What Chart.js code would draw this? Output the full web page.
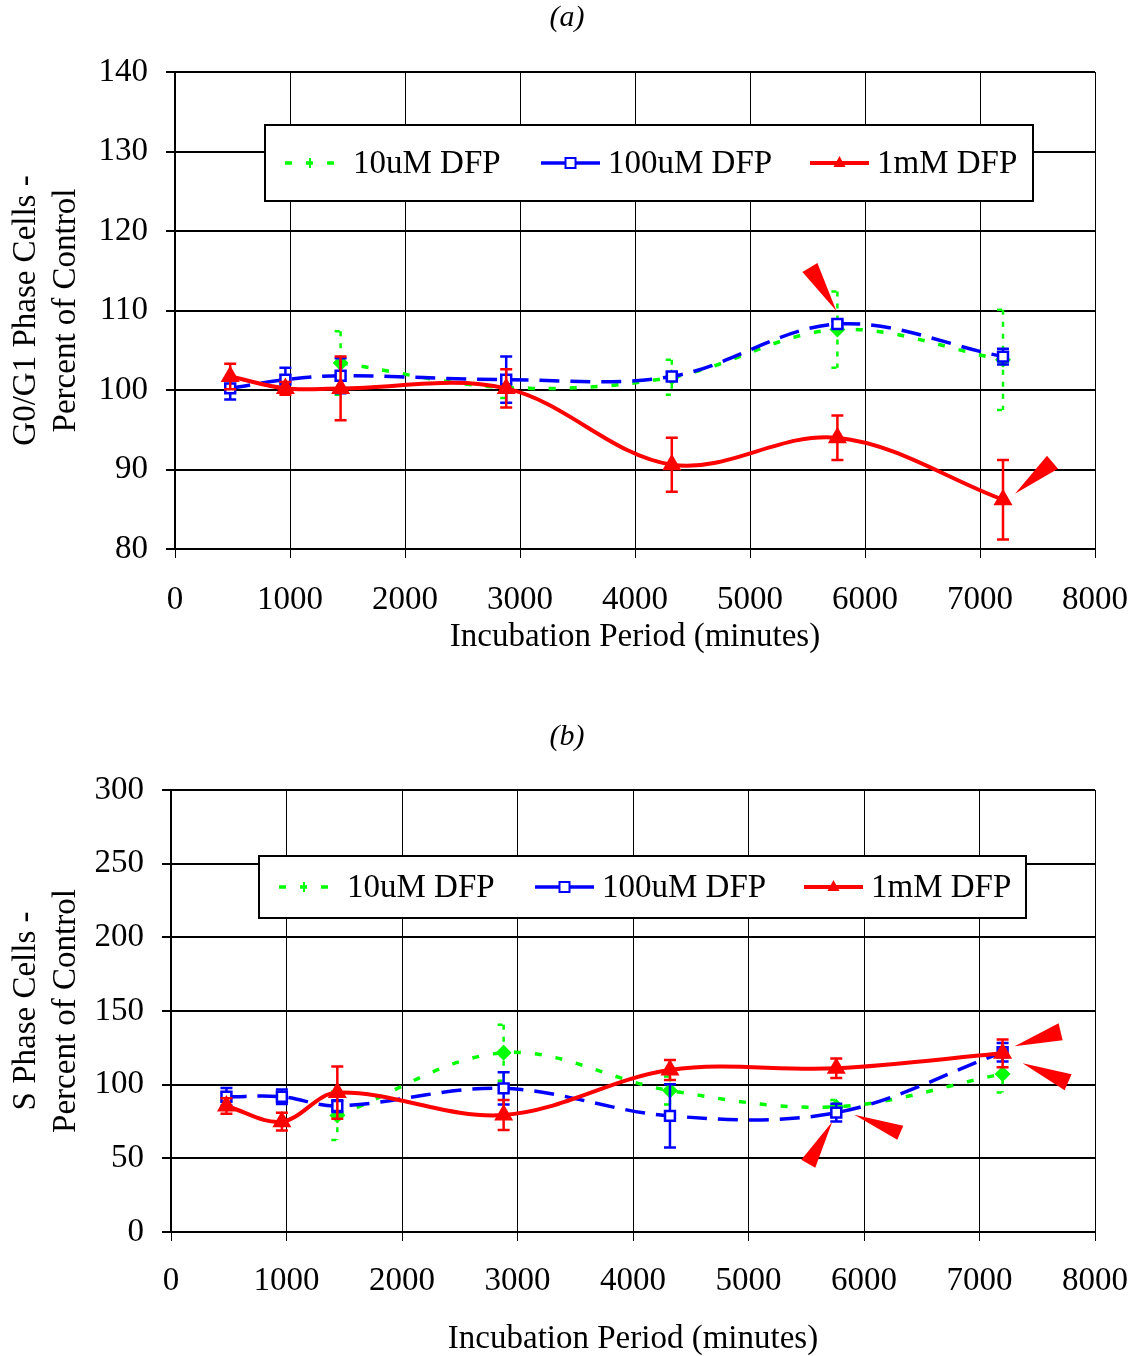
<!DOCTYPE html>
<html>
<head>
<meta charset="utf-8">
<script src="https://cdn.jsdelivr.net/npm/chart.js@4.4.0/dist/chart.umd.min.js"></script>
<style>
  body { margin: 0; background: #fff; }
  canvas { display: block; }
</style>
</head>
<body>
<canvas id="chartA" width="1138" height="690"></canvas>
<canvas id="chartB" width="1138" height="666"></canvas>
<script>
// incubation times in minutes (8h .. 120h)
const times = [480, 960, 1440, 2880, 4320, 5760, 7200];
const seriesNames = ['10uM DFP', '100uM DFP', '1mM DFP'];
const xTicks = [0, 1000, 2000, 3000, 4000, 5000, 6000, 7000, 8000];

// (a) G0/G1 phase cells, percent of control
const g1Low = [null, null, 103.4, 100.3, 101.6, 107.6, 103.8];
const g1LowErr = [null, null, 4.0, 1.3, 2.2, 4.8, 6.3];
const g1Mid = [100.2, 101.3, 101.8, 101.3, 101.7, 108.3, 104.2];
const g1MidErr = [1.4, 1.5, 2.2, 2.9, 0.5, 0.4, 1.0];
const g1High = [101.7, 100.2, 100.2, 100.2, 90.6, 94.0, 86.2];
const g1HighErr = [1.6, 0.8, 4.0, 2.4, 3.4, 2.8, 5.0];

// (b) S phase cells, percent of control
const sLow = [null, null, 79, 121.7, 96, 85, 107.3];
const sLowErr = [null, null, 16.5, 19, 9.5, 4.6, 12.7];
const sMid = [91.8, 91.8, 85.5, 97.5, 78.8, 81.0, 122.0];
const sMidErr = [6, 5, 4, 11, 21.5, 6, 6.2];
const sHigh = [85.5, 74.9, 94.6, 79.4, 110, 111.1, 121.3];
const sHighErr = [5.3, 6, 17.8, 10.2, 6.8, 6.6, 9.4];

const FONT = 'Liberation Serif, Times New Roman, serif';
Chart.defaults.font.family = FONT;
Chart.defaults.color = '#000';

function pts(vals) {
  return times.map((t, i) => ({ x: t, y: vals[i] }));
}

function makeSets(low, lowErr, mid, midErr, high, highErr) {
  return [
    {
      label: seriesNames[0], data: pts(low), err: lowErr, errDash: [5, 7],
      borderColor: '#00ff00', borderWidth: 3.5, borderDash: [7, 14],
      pointStyle: 'rectRot', pointRadius: 5.5,
      pointBackgroundColor: '#00ff00', pointBorderColor: '#00ff00',
      tension: 0.35, order: 3
    },
    {
      label: seriesNames[1], data: pts(mid), err: midErr,
      borderColor: '#0000ff', borderWidth: 3.5, borderDash: [20, 11],
      pointStyle: 'rect', pointRadius: 7, pointBorderWidth: 2.5,
      pointBackgroundColor: '#fff', pointBorderColor: '#0000ff',
      tension: 0.35, order: 2
    },
    {
      label: seriesNames[2], data: pts(high), err: highErr,
      borderColor: '#ff0000', borderWidth: 4,
      pointStyle: 'triangle', pointRadius: 7,
      pointBackgroundColor: '#ff0000', pointBorderColor: '#ff0000',
      tension: 0.35, order: 1
    }
  ];
}

// vertical error bars with caps, drawn just under each series
const errorBars = {
  id: 'errorBars',
  beforeDatasetDraw(chart, args) {
    const ds = chart.data.datasets[args.index];
    if (!ds.err) return;
    const xs = chart.scales.x, ys = chart.scales.y, ctx = chart.ctx;
    ctx.save();
    ctx.strokeStyle = ds.borderColor;
    ctx.lineWidth = 2.5;
    ctx.setLineDash(ds.errDash || []);
    ds.data.forEach((p, i) => {
      const e = ds.err[i];
      if (p.y == null || e == null) return;
      const x = xs.getPixelForValue(p.x);
      const top = ys.getPixelForValue(p.y + e);
      const bot = ys.getPixelForValue(p.y - e);
      ctx.beginPath();
      ctx.moveTo(x, top); ctx.lineTo(x, bot);
      ctx.moveTo(x - 6, top); ctx.lineTo(x + 6, top);
      ctx.moveTo(x - 6, bot); ctx.lineTo(x + 6, bot);
      ctx.stroke();
    });
    ctx.restore();
  }
};

// panel caption and boxed legend inside the plot
const legendBox = {
  id: 'legendBox',
  afterDatasetsDraw(chart, args, opts) {
    const ctx = chart.ctx, a = chart.chartArea;
    ctx.save();
    ctx.fillStyle = '#000';
    ctx.font = 'italic 30px ' + FONT;
    ctx.textAlign = 'center';
    ctx.textBaseline = 'middle';
    ctx.fillText(opts.caption, chart.width / 2 - 2, opts.captionY);
    ctx.textAlign = 'left';

    const left = a.left + opts.dx, top = a.top + opts.dy;
    const cy = top + opts.h / 2;
    ctx.fillStyle = '#fff';
    ctx.fillRect(left, top, opts.w, opts.h);
    ctx.strokeStyle = '#000';
    ctx.lineWidth = 2;
    ctx.strokeRect(left, top, opts.w, opts.h);

    const items = [[20, 70, 88], [276, 335, 343], [545, 604, 612]];
    chart.data.datasets.forEach((ds, k) => {
      const [x0, x1, tx] = items[k];
      const mx = left + (x0 + x1) / 2;
      ctx.strokeStyle = ds.borderColor;
      ctx.lineWidth = ds.borderWidth;
      ctx.setLineDash(k === 0 ? [7, 14] : []);
      ctx.beginPath();
      ctx.moveTo(left + x0, cy); ctx.lineTo(left + x1, cy);
      ctx.stroke();
      ctx.setLineDash([]);
      if (k === 0) {
        ctx.lineWidth = 2;
        ctx.beginPath();
        ctx.moveTo(mx, cy - 5); ctx.lineTo(mx, cy + 5);
        ctx.stroke();
      } else if (k === 1) {
        ctx.fillStyle = '#fff';
        ctx.fillRect(mx - 5, cy - 5, 10, 10);
        ctx.lineWidth = 2;
        ctx.strokeRect(mx - 5, cy - 5, 10, 10);
      } else {
        ctx.fillStyle = ds.borderColor;
        ctx.beginPath();
        ctx.moveTo(mx, cy - 7); ctx.lineTo(mx + 6, cy + 4); ctx.lineTo(mx - 6, cy + 4);
        ctx.closePath();
        ctx.fill();
      }
      ctx.fillStyle = '#000';
      ctx.font = '33px ' + FONT;
      ctx.textBaseline = 'middle';
      ctx.fillText(ds.label, left + tx, cy + 1);
    });
    ctx.restore();
  }
};

// red wedge pointers aimed at selected points
const pointers = {
  id: 'pointers',
  afterDraw(chart, args, opts) {
    const ctx = chart.ctx;
    ctx.save();
    ctx.fillStyle = '#ff0000';
    (opts.list || []).forEach(p => {
      const el = chart.getDatasetMeta(p.ds).data[p.i];
      const tx = el.x + p.tip[0], ty = el.y + p.tip[1];
      ctx.beginPath();
      ctx.moveTo(tx, ty);
      ctx.lineTo(tx + p.b1[0], ty + p.b1[1]);
      ctx.lineTo(tx + p.b2[0], ty + p.b2[1]);
      ctx.closePath();
      ctx.fill();
    });
    ctx.restore();
  }
};

function makeChart(id, cfg) {
  return new Chart(document.getElementById(id), {
    type: 'line',
    data: { datasets: cfg.datasets },
    options: {
      responsive: false,
      animation: false,
      layout: { padding: { left: 0, right: 43, top: cfg.padTop, bottom: cfg.padBottom } },
      plugins: {
        legend: { display: false },
        tooltip: { enabled: false },
        legendBox: cfg.legend,
        pointers: { list: cfg.pointers }
      },
      scales: {
        x: {
          type: 'linear', min: 0, max: 8000,
          afterBuildTicks(s) { s.ticks = xTicks.map(v => ({ value: v })); },
          afterFit(s) { s.height = cfg.xHeight; s.paddingLeft = 0; s.paddingRight = 0; },
          ticks: {
            color: '#000', font: { size: 33, lineHeight: 1 }, padding: cfg.xTickPad,
            maxRotation: 0, autoSkip: false, callback: v => String(v)
          },
          grid: { color: '#000', lineWidth: 1, tickLength: 9 },
          border: { color: '#000', width: 2 },
          title: {
            display: true, text: 'Incubation Period (minutes)', color: '#000',
            font: { size: 33, lineHeight: 1 }, padding: { top: 0, bottom: 0 }
          }
        },
        y: {
          min: cfg.yMin, max: cfg.yMax,
          afterBuildTicks(s) { s.ticks = cfg.yTicks.map(v => ({ value: v })); },
          afterFit(s) { s.width = cfg.yWidth; s.paddingTop = 0; s.paddingBottom = 0; },
          ticks: { color: '#000', font: { size: 33, lineHeight: 1 }, padding: 18, callback: v => String(v) },
          grid: { color: '#000', lineWidth: 2, tickLength: 9 },
          border: { color: '#000', width: 2 },
          title: {
            display: true, text: cfg.yTitle, color: '#000',
            font: { size: 33, lineHeight: 1.2 }, padding: { top: 7, bottom: 0 }
          }
        }
      }
    },
    plugins: [errorBars, legendBox, pointers]
  });
}

makeChart('chartA', {
  datasets: makeSets(g1Low, g1LowErr, g1Mid, g1MidErr, g1High, g1HighErr),
  yMin: 80, yMax: 140, yTicks: [80, 90, 100, 110, 120, 130, 140], yWidth: 175,
  yTitle: ['G0/G1 Phase Cells -', 'Percent of Control'],
  padTop: 72, padBottom: 36.5, xHeight: 104.5, xTickPad: 25.5,
  legend: { caption: '(a)', captionY: 18, dx: 90, dy: 53, w: 768, h: 76 },
  pointers: [
    { ds: 1, i: 5, tip: [-1, -13], b1: [-34, -39], b2: [-19, -48] },
    { ds: 2, i: 6, tip: [12, -6], b1: [32, -38], b2: [43, -25] }
  ]
});

makeChart('chartB', {
  datasets: makeSets(sLow, sLowErr, sMid, sMidErr, sHigh, sHighErr),
  yMin: 0, yMax: 300, yTicks: [0, 50, 100, 150, 200, 250, 300], yWidth: 171,
  yTitle: ['S Phase Cells -', 'Percent of Control'],
  padTop: 100, padBottom: 0.5, xHeight: 123.5, xTickPad: 23.5,
  legend: { caption: '(b)', captionY: 47, dx: 88, dy: 66, w: 767, h: 62 },
  pointers: [
    { ds: 1, i: 5, tip: [-4, 9], b1: [-31, 38], b2: [-17, 46] },
    { ds: 1, i: 5, tip: [18, 2], b1: [49, 11], b2: [43, 25] },
    { ds: 2, i: 6, tip: [12, -7], b1: [44, -23], b2: [48, -6] },
    { ds: 2, i: 6, tip: [20, 10], b1: [49, 11], b2: [42, 27] }
  ]
});
</script>
</body>
</html>
